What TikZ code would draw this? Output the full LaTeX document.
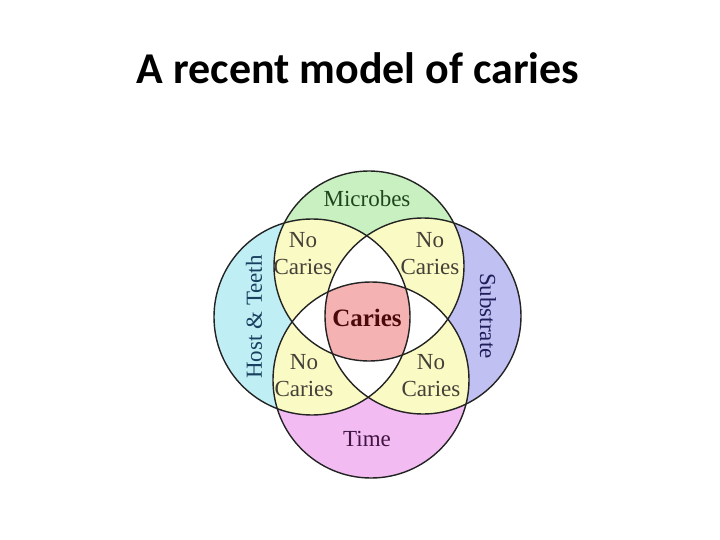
\documentclass[tikz,border=0pt]{standalone}
\usepackage{fontspec}
\setmainfont{Liberation Serif}
\newfontfamily\titlefont{Carlito}
\definecolor{microbesgreen}{RGB}{200,240,192}
\definecolor{hostcyan}{RGB}{192,238,245}
\definecolor{substratelilac}{RGB}{192,192,242}
\definecolor{timepink}{RGB}{242,188,242}
\definecolor{nocariesyellow}{RGB}{250,250,196}
\definecolor{cariespink}{RGB}{245,178,178}
\definecolor{ringline}{RGB}{35,35,35}
\tikzset{
  lbl/.style={font=\fontsize{23}{27}\selectfont, align=center, inner sep=0pt},
  nocaries/.style={lbl, text=black!85!yellow},
  ring/.style={draw=ringline, line width=1.4pt}
}
\begin{document}
\begin{tikzpicture}[x=1pt,y=-1pt]
\useasboundingbox (0,0) rectangle (720,540);
\fill[white] (0,0) rectangle (720,540);

%title
\node[font=\titlefont\bfseries\fontsize{44}{52}\selectfont] (title) at (358,68) {A recent model of caries};

%centres of the four circles
\coordinate (mic) at (369,266);
\coordinate (hst) at (312,317);
\coordinate (sub) at (423,316);
\coordinate (tim) at (371,380);
\def\rmic{95}
\def\rr{98}

%single circles
\fill[microbesgreen] (mic) circle (\rmic);
\fill[hostcyan] (hst) circle (\rr);
\fill[substratelilac] (sub) circle (\rr);
\fill[timepink] (tim) circle (\rr);

%two circles: no caries
\begin{scope}
  \clip (mic) circle (\rmic);
  \fill[nocariesyellow] (hst) circle (\rr);
  \fill[nocariesyellow] (sub) circle (\rr);
\end{scope}
\begin{scope}
  \clip (tim) circle (\rr);
  \fill[nocariesyellow] (hst) circle (\rr);
  \fill[nocariesyellow] (sub) circle (\rr);
\end{scope}

%three circles: white
\begin{scope}
  \clip (hst) circle (\rr);
  \clip (sub) circle (\rr);
  \fill[white] (mic) circle (\rmic);
  \fill[white] (tim) circle (\rr);
\end{scope}
\begin{scope}
  \clip (mic) circle (\rmic);
  \clip (tim) circle (\rr);
  \fill[white] (hst) circle (\rr);
  \fill[white] (sub) circle (\rr);
\end{scope}

%four circles: caries
\begin{scope}
  \clip (mic) circle (\rmic);
  \clip (tim) circle (\rr);
  \clip (hst) circle (\rr);
  \fill[cariespink] (sub) circle (\rr);
\end{scope}

%outlines
\draw[ring] (mic) circle (\rmic);
\draw[ring] (hst) circle (\rr);
\draw[ring] (sub) circle (\rr);
\draw[ring] (tim) circle (\rr);

%labels
\node[lbl, text={rgb,255:red,30;green,70;blue,30}] (microbes) at (367,199) {Microbes};
\node[lbl, text={rgb,255:red,25;green,65;blue,95}, rotate=90] (host) at (254,317) {Host \& Teeth};
\node[lbl, text={rgb,255:red,30;green,30;blue,90}, rotate=-90] (substrate) at (488,316) {Substrate};
\node[lbl, text={rgb,255:red,65;green,20;blue,65}] (time) at (367,439) {Time};
\node[nocaries] (nc1) at (303,254) {No\\Caries};
\node[nocaries] (nc2) at (430,254) {No\\Caries};
\node[nocaries] (nc3) at (304,376) {No\\Caries};
\node[nocaries] (nc4) at (431,376) {No\\Caries};
\node[lbl, font=\bfseries\fontsize{25}{28}\selectfont, text={rgb,255:red,75;green,10;blue,10}] (caries) at (367,318) {Caries};
\end{tikzpicture}
\end{document}
